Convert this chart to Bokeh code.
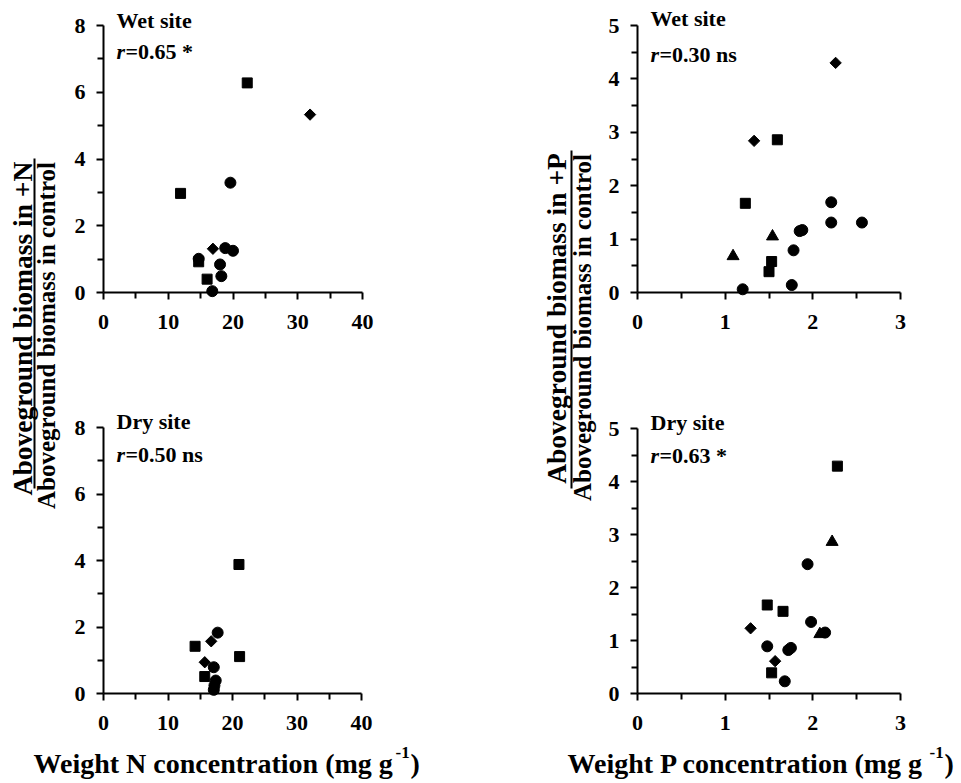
import numpy as np
from bokeh.plotting import figure
from bokeh.models import Range1d, FixedTicker, Label, BoxAnnotation
from bokeh.layouts import row, column
from bokeh.embed import file_html
from bokeh.resources import INLINE

FONT = "Liberation Serif"

# ---------------- data ----------------
# Wet site, N
wetN_sq_x = [22.2, 11.9, 14.7, 16.0]
wetN_sq_y = [6.28, 2.97, 0.92, 0.40]
wetN_ci_x = [19.6, 18.8, 20.0, 14.7, 18.0, 18.2, 16.8]
wetN_ci_y = [3.29, 1.33, 1.25, 1.01, 0.84, 0.49, 0.04]
wetN_di_x = [31.9, 16.9]
wetN_di_y = [5.33, 1.31]

# Dry site, N
dryN_sq_x = [21.0, 14.2, 21.1, 15.7]
dryN_sq_y = [3.88, 1.42, 1.11, 0.51]
dryN_ci_x = [17.7, 17.1, 17.4, 17.2, 17.1]
dryN_ci_y = [1.83, 0.79, 0.39, 0.24, 0.11]
dryN_di_x = [16.7, 15.7]
dryN_di_y = [1.57, 0.94]

# Wet site, P
wetP_sq_x = [1.595, 1.23, 1.53, 1.50]
wetP_sq_y = [2.86, 1.67, 0.58, 0.39]
wetP_ci_x = [2.21, 2.21, 2.56, 1.85, 1.88, 1.78, 1.76, 1.20]
wetP_ci_y = [1.69, 1.31, 1.31, 1.15, 1.17, 0.79, 0.14, 0.06]
wetP_di_x = [2.26, 1.33]
wetP_di_y = [4.30, 2.84]
wetP_tr_x = [1.54, 1.09]
wetP_tr_y = [1.05, 0.68]

# Dry site, P
dryP_sq_x = [2.28, 1.48, 1.66, 1.53]
dryP_sq_y = [4.29, 1.67, 1.55, 0.39]
dryP_ci_x = [1.94, 1.98, 2.14, 1.48, 1.72, 1.75, 1.68]
dryP_ci_y = [2.44, 1.35, 1.15, 0.89, 0.82, 0.86, 0.23]
dryP_di_x = [1.29, 1.57]
dryP_di_y = [1.23, 0.61]
dryP_tr_x = [2.22, 2.08]
dryP_tr_y = [2.86, 1.12]

# ticks
N_x_ticks = [0, 10, 20, 30, 40]
N_x_minor = [5, 15, 25, 35]
N_y_ticks = [0, 2, 4, 6, 8]
N_y_minor = [1, 3, 5, 7]
P_x_ticks = [0, 1, 2, 3]
P_x_minor = [0.5, 1.5, 2.5]
P_y_ticks = [0, 1, 2, 3, 4, 5]
P_y_minor = [0.5, 1.5, 2.5, 3.5, 4.5]

site_labels = ["Wet site", "Wet site", "Dry site", "Dry site"]
r_labels = ["=0.65 *", "=0.30 ns", "=0.50 ns", "=0.63 *"]
x_titles = ["Weight N concentration (mg g", "Weight P concentration (mg g"]
y_titles_top = ["Aboveground biomass in +N", "Aboveground biomass in +P"]
y_title_bottom = "Aboveground biomass in control"

PAD_L, PAD_R, PAD_T, PAD_B = 35, 15, 15, 45


def panel(xt, xm, yt, ym, axis_w, axis_h, bl, br, bt, bb, series, site, rtxt, txt_dy):
    xmax, ymax = xt[-1], yt[-1]
    ppx = axis_w / xmax
    ppy = axis_h / ymax
    p = figure(frame_width=axis_w + PAD_L + PAD_R, frame_height=axis_h + PAD_T + PAD_B,
               x_range=Range1d(-PAD_L / ppx, xmax + PAD_R / ppx),
               y_range=Range1d(-PAD_B / ppy, ymax + PAD_T / ppy),
               output_backend="svg", toolbar_location=None,
               min_border_left=bl, min_border_right=br,
               min_border_top=bt, min_border_bottom=bb)
    p.xgrid.visible = False
    p.ygrid.visible = False
    p.outline_line_color = None
    p.background_fill_color = "white"
    p.border_fill_color = "white"
    p.xaxis.ticker = FixedTicker(ticks=xt, minor_ticks=xm)
    p.yaxis.ticker = FixedTicker(ticks=yt, minor_ticks=ym)
    p.xaxis.fixed_location = 0
    p.yaxis.fixed_location = 0
    p.xaxis.bounds = (0, xmax)
    p.yaxis.bounds = (0, ymax)
    for ax in (p.xaxis, p.yaxis):
        ax.axis_line_width = 2
        ax.axis_line_color = "black"
        ax.major_tick_line_width = 2
        ax.minor_tick_line_width = 2
        ax.major_tick_line_color = "black"
        ax.minor_tick_line_color = "black"
        ax.major_tick_in = 0
        ax.minor_tick_in = 0
        ax.major_tick_out = 7
        ax.minor_tick_out = 6
        ax.major_label_text_font = FONT
        ax.major_label_text_font_style = "bold"
        ax.major_label_text_font_size = "22px"
        ax.major_label_text_color = "black"
    p.xaxis.major_label_standoff = 15
    p.yaxis.major_label_standoff = 11

    for (xs, ys, kind) in series:
        if kind == "sq":
            p.scatter(xs, ys, marker="square", size=10, color="black")
        elif kind == "ci":
            p.scatter(xs, ys, marker="circle", size=11, color="black")
        elif kind == "di":
            p.scatter(xs, ys, marker="square", size=8, angle=np.pi / 4, color="black")
        elif kind == "tr":
            p.scatter(xs, ys, marker="triangle", size=12, color="black")

    # text positions relative to frame (screen units from frame bottom-left)
    top_sy = PAD_B + axis_h
    sx = PAD_L + 13
    p.add_layout(Label(x=sx, y=top_sy - txt_dy[0], x_units="screen", y_units="screen",
                       text=site, text_font=FONT, text_font_style="bold",
                       text_font_size="22px", text_color="black",
                       text_baseline="alphabetic", text_align="left"))
    p.add_layout(Label(x=sx, y=top_sy - txt_dy[1], x_units="screen", y_units="screen",
                       text="r", text_font=FONT, text_font_style="bold italic",
                       text_font_size="22px", text_color="black",
                       text_baseline="alphabetic", text_align="left"))
    p.add_layout(Label(x=sx + 9, y=top_sy - txt_dy[1], x_units="screen", y_units="screen",
                       text=rtxt, text_font=FONT, text_font_style="bold",
                       text_font_size="22px", text_color="black",
                       text_baseline="alphabetic", text_align="left"))
    return p


# canvases: p1/p2 page y 0..360, p3/p4 360..740
p1 = panel(N_x_ticks, N_x_minor, N_y_ticks, N_y_minor, 259, 267, 4, 143, 10, 23,
           [(wetN_sq_x, wetN_sq_y, "sq"), (wetN_ci_x, wetN_ci_y, "ci"), (wetN_di_x, wetN_di_y, "di")],
           site_labels[0], r_labels[0], (-5, 26))
p3 = panel(N_x_ticks, N_x_minor, N_y_ticks, N_y_minor, 258, 266, 4, 144, 52, 2,
           [(dryN_sq_x, dryN_sq_y, "sq"), (dryN_ci_x, dryN_ci_y, "ci"), (dryN_di_x, dryN_di_y, "di")],
           site_labels[2], r_labels[2], (-6, 27))
p2 = panel(P_x_ticks, P_x_minor, P_y_ticks, P_y_minor, 263, 267, 2, 45, 10, 23,
           [(wetP_sq_x, wetP_sq_y, "sq"), (wetP_ci_x, wetP_ci_y, "ci"), (wetP_di_x, wetP_di_y, "di"),
            (wetP_tr_x, wetP_tr_y, "tr")],
           site_labels[1], r_labels[1], (-7, 29))
p4 = panel(P_x_ticks, P_x_minor, P_y_ticks, P_y_minor, 263, 265, 1, 46, 53, 2,
           [(dryP_sq_x, dryP_sq_y, "sq"), (dryP_ci_x, dryP_ci_y, "ci"), (dryP_di_x, dryP_di_y, "di"),
            (dryP_tr_x, dryP_tr_y, "tr")],
           site_labels[3], r_labels[3], (-6, 27))


def blank(w, h):
    f = figure(width=w, height=h, x_axis_type=None, y_axis_type=None,
               output_backend="svg", toolbar_location=None, min_border=0,
               x_range=Range1d(0, w), y_range=Range1d(0, h))
    f.xgrid.visible = False
    f.ygrid.visible = False
    f.outline_line_color = None
    return f


def ytitle(f, top_text, up_x, up_cy, lo_x, lo_cy, bar_x, bar_b, bar_t):
    f.add_layout(Label(x=up_x, y=up_cy, x_units="screen", y_units="screen", angle=np.pi / 2,
                       text=top_text, text_font=FONT, text_font_style="bold",
                       text_font_size="27.5px", text_color="black",
                       text_align="center", text_baseline="alphabetic"))
    f.add_layout(Label(x=lo_x, y=lo_cy, x_units="screen", y_units="screen", angle=np.pi / 2,
                       text=y_title_bottom, text_font=FONT, text_font_style="bold",
                       text_font_size="25px", text_color="black",
                       text_align="center", text_baseline="alphabetic"))
    f.add_layout(BoxAnnotation(left=bar_x, right=bar_x + 2, bottom=bar_b, top=bar_t,
                               left_units="screen", right_units="screen",
                               bottom_units="screen", top_units="screen",
                               fill_color="black", fill_alpha=1, line_color=None))


t1 = blank(64, 740)
ytitle(t1, y_titles_top[0], 22, 412, 46, 405, 33, 252, 582)
t2 = blank(80, 740)
ytitle(t2, y_titles_top[1], 36, 422, 62, 413, 50, 252, 590)

xt = blank(960, 42)
for x0, txt in ((33, x_titles[0]), (567, x_titles[1])):
    xt.add_layout(Label(x=x0, y=19, x_units="screen", y_units="screen", text=txt,
                        text_font=FONT, text_font_style="bold", text_font_size="28px",
                        text_color="black", text_align="left", text_baseline="alphabetic"))
    xt.add_layout(Label(x=x0 + 362, y=30, x_units="screen", y_units="screen", text="-1",
                        text_font=FONT, text_font_style="bold", text_font_size="17px",
                        text_color="black", text_align="left", text_baseline="alphabetic"))
    xt.add_layout(Label(x=x0 + 377, y=19, x_units="screen", y_units="screen", text=")",
                        text_font=FONT, text_font_style="bold", text_font_size="28px",
                        text_color="black", text_align="left", text_baseline="alphabetic"))

layout = column(row(t1, column(p1, p3), t2, column(p2, p4)), xt)

open("out.html", "w").write(file_html(layout, INLINE))
